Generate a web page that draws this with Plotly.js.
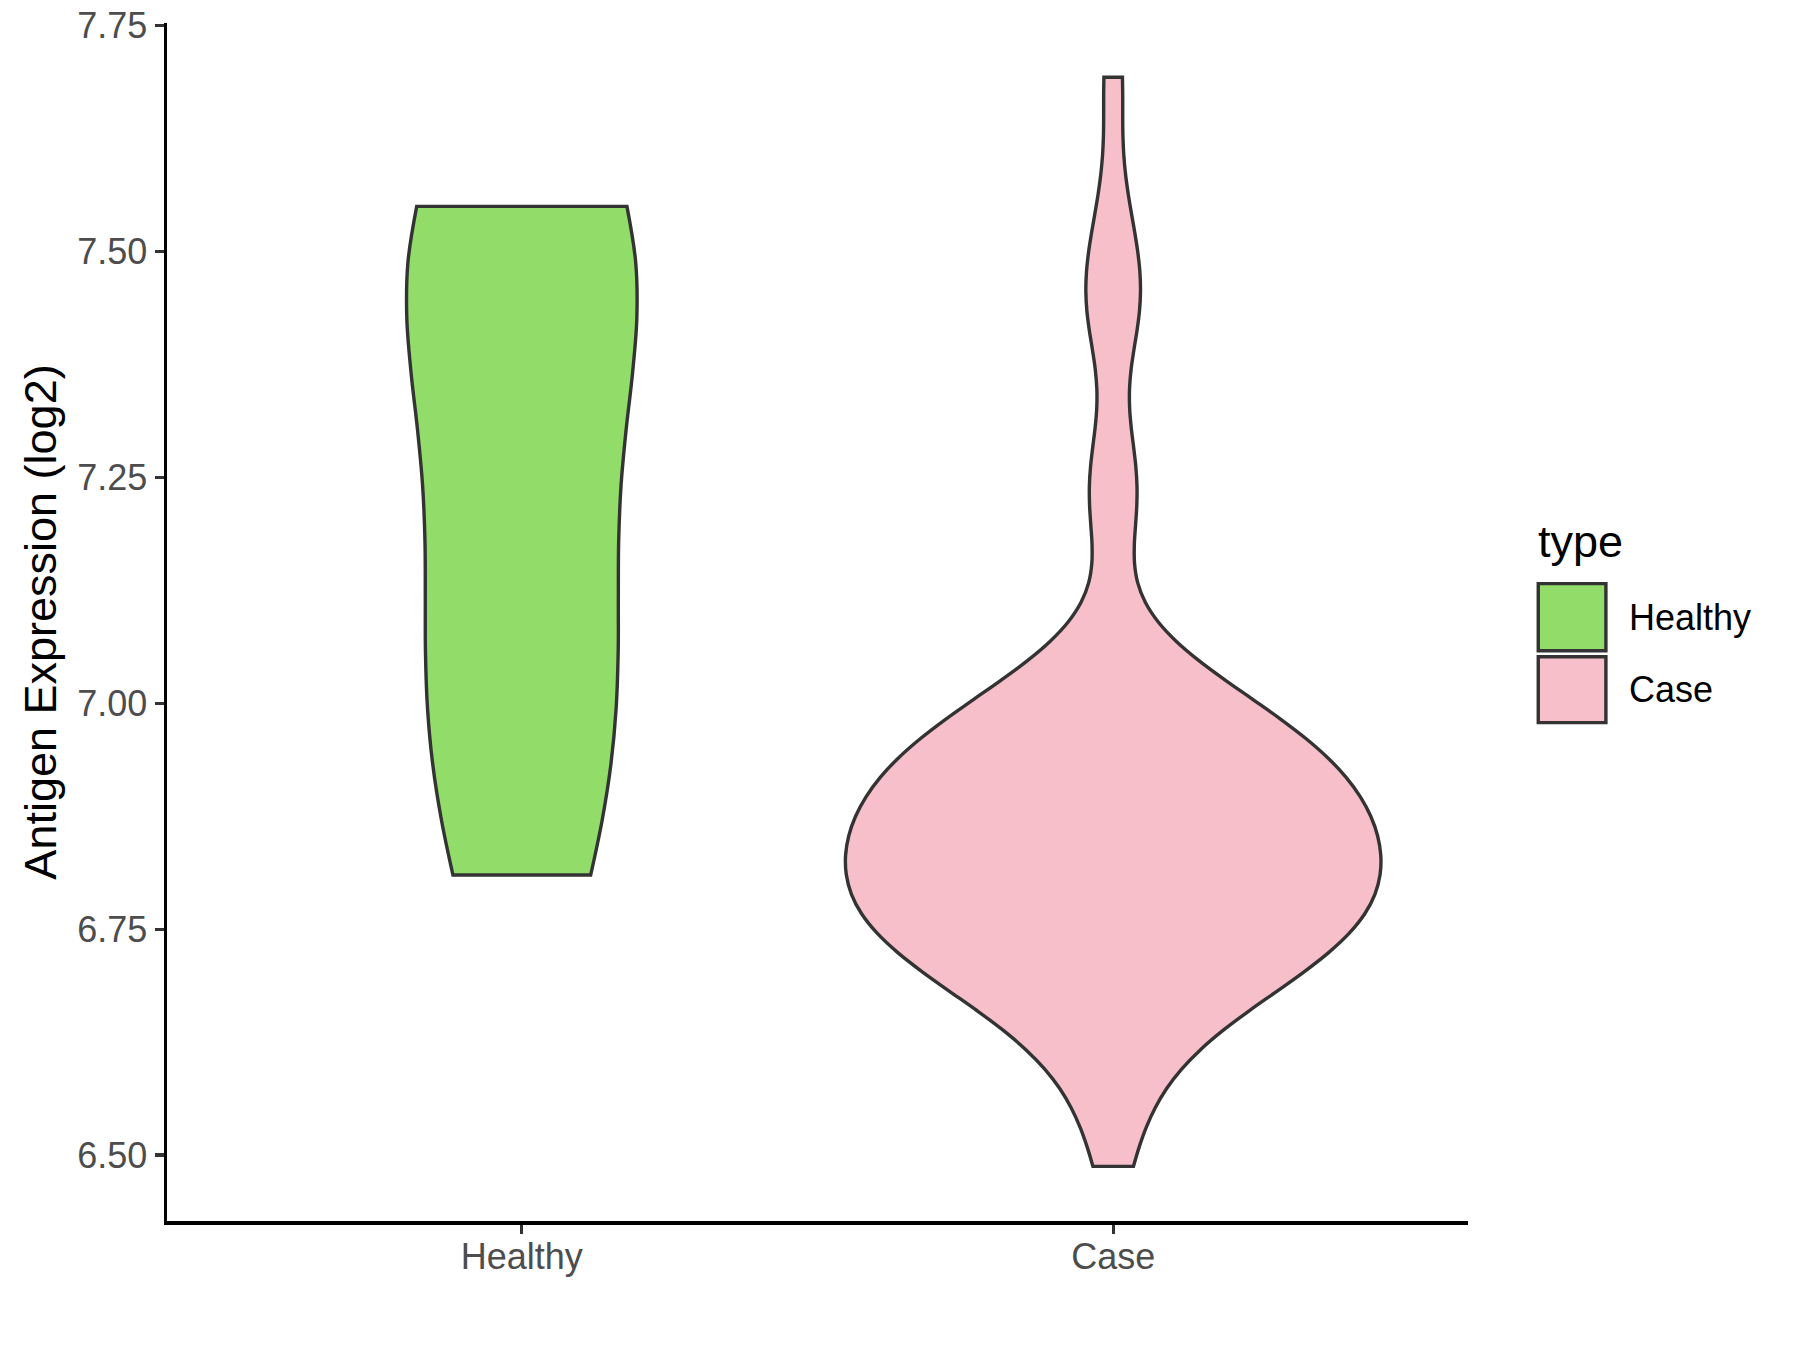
<!DOCTYPE html>
<html>
<head>
<meta charset="utf-8">
<script src="https://cdn.plot.ly/plotly-3.0.1.min.js"></script>
<style>html,body{margin:0;padding:0;background:#fff;}#chart{width:1800px;height:1350px;}</style>
</head>
<body>
<div id="chart"></div>
<script>
// ---- data ----
const categories = ["Healthy", "Case"];
const healthyValues = [6.81, 7.00, 7.13, 7.40, 7.51, 7.55];
const caseValues = [
  6.4875, 6.542, 6.589, 6.613, 6.632, 6.649, 6.663, 6.676,
  6.687, 6.693, 6.699, 6.705, 6.712,
  6.718, 6.723, 6.728, 6.733, 6.738, 6.743,
  6.749, 6.754, 6.759, 6.764, 6.769, 6.774,
  6.779, 6.784, 6.789, 6.794, 6.799, 6.804,
  6.8085, 6.8135, 6.8185, 6.8235, 6.8285, 6.8335,
  6.839, 6.844, 6.849, 6.854, 6.859, 6.864,
  6.869, 6.874, 6.879, 6.884, 6.8896, 6.8947,
  6.900, 6.906, 6.911, 6.917, 6.922,
  6.928, 6.934, 6.940, 6.946, 6.952,
  6.958, 6.965, 6.971, 6.978, 6.984,
  6.992, 7.000, 7.008, 7.019, 7.042, 7.068,
  7.20, 7.235, 7.275,
  7.415, 7.445, 7.475,
  7.545, 7.693
];
const yTickVals = [6.50, 6.75, 7.00, 7.25, 7.50, 7.75];
const yTickText = ["6.50", "6.75", "7.00", "7.25", "7.50", "7.75"];
const legendTitle = "type";
const yTitle = "Antigen Expression (log2)";

// ---- styles ----
const colors = {Healthy: "#92DC6A", Case: "#F7BFCA"};
const outline = "#333333";
const FONT = "Liberation Sans, Arial, Helvetica, sans-serif";
const LW = 3.4;

const traces = [
  {
    type: "violin", name: categories[0], x0: categories[0], y: healthyValues,
    bandwidth: 0.186, spanmode: "hard", scalemode: "width", width: 0.389,
    fillcolor: colors.Healthy, line: {color: outline, width: LW},
    points: false, box: {visible: false}, meanline: {visible: false},
    hoveron: "violins", showlegend: false
  },
  {
    type: "violin", name: categories[1], x0: categories[1], y: caseValues,
    bandwidth: 0.065, spanmode: "hard", scalemode: "width", width: 0.905,
    fillcolor: colors.Case, line: {color: outline, width: LW},
    points: false, box: {visible: false}, meanline: {visible: false},
    hoveron: "violins", showlegend: false
  }
];

// legend drawn in paper coordinates
const shapes = [
  {type: "rect", xref: "paper", yref: "paper", x0: 1.054, x1: 1.106, y0: 0.476, y1: 0.532,
   fillcolor: colors.Healthy, line: {color: outline, width: LW}},
  {type: "rect", xref: "paper", yref: "paper", x0: 1.054, x1: 1.106, y0: 0.416, y1: 0.471,
   fillcolor: colors.Case, line: {color: outline, width: LW}}
];
const annotations = [
  {xref: "paper", yref: "paper", x: 1.052, y: 0.567, xanchor: "left", yanchor: "middle",
   text: legendTitle, showarrow: false, font: {family: FONT, size: 45, color: "#000"}},
  {xref: "paper", yref: "paper", x: 1.1225, y: 0.5035, xanchor: "left", yanchor: "middle",
   text: categories[0], showarrow: false, font: {family: FONT, size: 36, color: "#000"}},
  {xref: "paper", yref: "paper", x: 1.1225, y: 0.4435, xanchor: "left", yanchor: "middle",
   text: categories[1], showarrow: false, font: {family: FONT, size: 36, color: "#000"}}
];

const layout = {
  width: 1800, height: 1350,
  margin: {l: 167, r: 332, t: 23, b: 129, autoexpand: false},
  paper_bgcolor: "#fff", plot_bgcolor: "#fff",
  violinmode: "overlay",
  showlegend: false,
  font: {family: FONT},
  xaxis: {
    type: "category", categoryorder: "array", categoryarray: categories,
    range: [-0.6, 1.6], showgrid: false, zeroline: false,
    showline: true, linecolor: "#000", linewidth: 3.5,
    ticks: "outside", ticklen: 9, tickwidth: 3.2, tickcolor: outline,
    ticklabelstandoff: -8,
    tickfont: {family: FONT, size: 36, color: "#4D4D4D"}
  },
  yaxis: {
    range: [6.427, 7.753], showgrid: false, zeroline: false,
    showline: true, linecolor: "#000", linewidth: 3.5,
    ticks: "outside", ticklen: 9, tickwidth: 3.2, tickcolor: outline,
    tickvals: yTickVals, ticktext: yTickText,
    tickfont: {family: FONT, size: 36, color: "#4D4D4D"},
    title: {text: yTitle, font: {family: FONT, size: 45, color: "#000"}, standoff: 7}
  },
  shapes: shapes,
  annotations: annotations
};

Plotly.newPlot("chart", traces, layout, {staticPlot: true, displayModeBar: false});
</script>
</body>
</html>
